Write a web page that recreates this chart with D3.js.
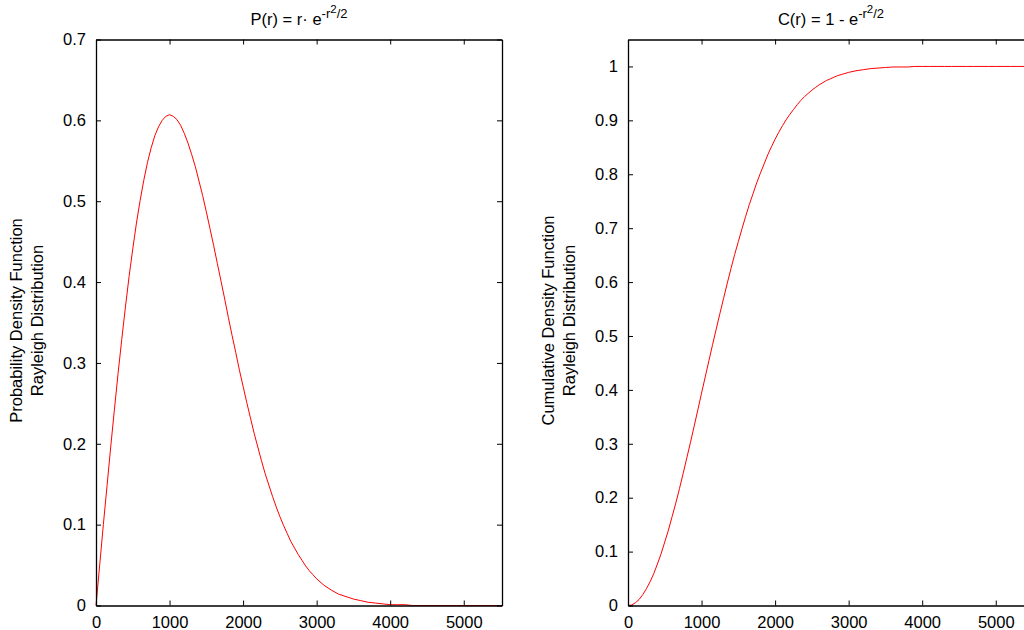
<!DOCTYPE html>
<html>
<head>
<meta charset="utf-8">
<script src="https://cdn.jsdelivr.net/npm/d3@7"></script>
<style>
  html, body { margin: 0; padding: 0; background: #fff; }
  svg { display: block; }
  text { font-family: "Liberation Sans", Arial, sans-serif; fill: #000; }
</style>
</head>
<body>
<svg id="chart" width="1024" height="630"></svg>
<script>
// Sample positions along the horizontal axis
const samplesX = [
  0, 50, 100, 150, 200, 250, 300, 350, 400, 450,
  500, 550, 600, 650, 700, 750, 800, 850, 900, 950,
  1000, 1050, 1100, 1150, 1200, 1250, 1300, 1350, 1400, 1450,
  1500, 1550, 1600, 1650, 1700, 1750, 1800, 1850, 1900, 1950,
  2000, 2050, 2100, 2150, 2200, 2250, 2300, 2350, 2400, 2450,
  2500, 2550, 2600, 2650, 2700, 2750, 2800, 2850, 2900, 2950,
  3000, 3100, 3200, 3300, 3400, 3500, 3600, 3700, 3800, 3900,
  4000, 4100, 4200, 4300, 4400, 4500, 4600, 4700, 4800, 4900,
  5000, 5100, 5200, 5300, 5400, 5500, 5520
];

// Probability density values (left panel)
const pdfValues = [
  0.000, 0.050, 0.100, 0.148, 0.196, 0.242, 0.287, 0.329, 0.369, 0.407,
  0.441, 0.473, 0.501, 0.526, 0.548, 0.566, 0.581, 0.592, 0.600, 0.605,
  0.607, 0.605, 0.601, 0.594, 0.584, 0.572, 0.558, 0.543, 0.525, 0.507,
  0.487, 0.466, 0.445, 0.423, 0.401, 0.379, 0.356, 0.334, 0.313, 0.291,
  0.271, 0.251, 0.232, 0.213, 0.196, 0.179, 0.163, 0.149, 0.135, 0.122,
  0.110, 0.099, 0.089, 0.079, 0.071, 0.063, 0.056, 0.049, 0.043, 0.038,
  0.033, 0.025, 0.019, 0.014, 0.011, 0.008, 0.006, 0.004, 0.003, 0.002,
  0.001, 0.001, 0.001, 0.000, 0.000, 0.000, 0.000, 0.000, 0.000, 0.000,
  0.000, 0.000, 0.000, 0.000, 0.000, 0.000, 0.000
];

// Cumulative values (right panel)
const cdfValues = [
  0.000, 0.001, 0.005, 0.011, 0.020, 0.031, 0.044, 0.059, 0.077, 0.096,
  0.118, 0.140, 0.165, 0.190, 0.217, 0.245, 0.274, 0.303, 0.333, 0.363,
  0.394, 0.424, 0.454, 0.484, 0.513, 0.542, 0.570, 0.598, 0.625, 0.651,
  0.675, 0.699, 0.722, 0.744, 0.764, 0.784, 0.802, 0.819, 0.836, 0.851,
  0.865, 0.878, 0.890, 0.901, 0.911, 0.920, 0.929, 0.937, 0.944, 0.950,
  0.956, 0.961, 0.966, 0.970, 0.974, 0.977, 0.980, 0.983, 0.985, 0.987,
  0.989, 0.992, 0.994, 0.996, 0.997, 0.998, 0.999, 0.999, 0.999, 1.000,
  1.000, 1.000, 1.000, 1.000, 1.000, 1.000, 1.000, 1.000, 1.000, 1.000,
  1.000, 1.000, 1.000, 1.000, 1.000, 1.000, 1.000
];

// Tick labels
const xTicks = [0, 1000, 2000, 3000, 4000, 5000];
const pdfTicks = [0, 0.1, 0.2, 0.3, 0.4, 0.5, 0.6, 0.7];
const cdfTicks = [0, 0.1, 0.2, 0.3, 0.4, 0.5, 0.6, 0.7, 0.8, 0.9, 1];

const svg = d3.select("#chart");
const plotTop = 39.5, plotBottom = 605.5, panelW = 406;
const tickLen = 5;
const fontSize = 16.5;

function drawPanel(opts) {
  const { left, yMax, values, yTicks, yFormat, labelLines, titleBase } = opts;
  const x = d3.scaleLinear().domain([0, 5520]).range([left, left + panelW]);
  const y = d3.scaleLinear().domain([0, yMax]).range([plotBottom, plotTop]);
  const g = svg.append("g");

  // curve
  const line = d3.line().x((d, i) => x(samplesX[i])).y(d => y(d));
  g.append("path")
    .datum(values)
    .attr("d", line)
    .attr("fill", "none")
    .attr("stroke", "#ff0000")
    .attr("stroke-width", 1);

  // axes (ticks pointing inward, box on)
  const axisBottom = d3.axisBottom(x).tickValues(xTicks).tickSizeInner(-tickLen).tickSizeOuter(0).tickPadding(11).tickFormat(d3.format("d"));
  const axisTop = d3.axisTop(x).tickValues(xTicks).tickSizeInner(-tickLen).tickSizeOuter(0).tickFormat("");
  const axisLeft = d3.axisLeft(y).tickValues(yTicks).tickSizeInner(-tickLen).tickSizeOuter(0).tickPadding(10).tickFormat(yFormat);
  const axisRight = d3.axisRight(y).tickValues(yTicks).tickSizeInner(-tickLen).tickSizeOuter(0).tickFormat("");

  const axes = [
    g.append("g").attr("transform", `translate(0,${plotBottom})`).call(axisBottom),
    g.append("g").attr("transform", `translate(0,${plotTop})`).call(axisTop),
    g.append("g").attr("transform", `translate(${left},0)`).call(axisLeft),
    g.append("g").attr("transform", `translate(${left + panelW},0)`).call(axisRight)
  ];
  axes.forEach(a => {
    a.selectAll(".domain").attr("stroke", "#000").attr("stroke-width", 1.3);
    a.selectAll(".tick line").attr("stroke", "#000").attr("stroke-width", 1);
    a.selectAll("text").attr("font-size", fontSize).attr("font-family", "Liberation Sans, Arial, sans-serif").attr("fill", "#000");
  });

  // rotated two-line axis label
  const cy = (plotTop + plotBottom) / 2 - 2;
  labelLines.forEach((txt, i) => {
    g.append("text")
      .attr("transform", `translate(${left - 74 + i * 21},${cy}) rotate(-90)`)
      .attr("text-anchor", "middle")
      .attr("font-size", 16.5)
      .text(txt);
  });

  // title with nested superscripts
  const t = g.append("text")
    .attr("x", left + panelW / 2)
    .attr("y", 25)
    .attr("text-anchor", "middle")
    .attr("font-size", 16.5);
  t.append("tspan").text(titleBase);
  t.append("tspan").attr("font-size", 13).attr("dy", -7).text("-r");
  t.append("tspan").attr("font-size", 11.5).attr("dy", -5).text("2");
  t.append("tspan").attr("font-size", 13).attr("dy", 5).text("/2");
}

drawPanel({
  left: 96,
  yMax: 0.7,
  values: pdfValues,
  yTicks: pdfTicks,
  yFormat: d => d === 0 ? "0" : d3.format(".1f")(d),
  labelLines: ["Probability Density Function", "Rayleigh Distribution"],
  titleBase: "P(r) = r\u00b7 e"
});

drawPanel({
  left: 628,
  yMax: 1.05,
  values: cdfValues,
  yTicks: cdfTicks,
  yFormat: d => (d === 0 || d === 1) ? String(d) : d3.format(".1f")(d),
  labelLines: ["Cumulative Density Function", "Rayleigh Distribution"],
  titleBase: "C(r) = 1 - e"
});
</script>
</body>
</html>
